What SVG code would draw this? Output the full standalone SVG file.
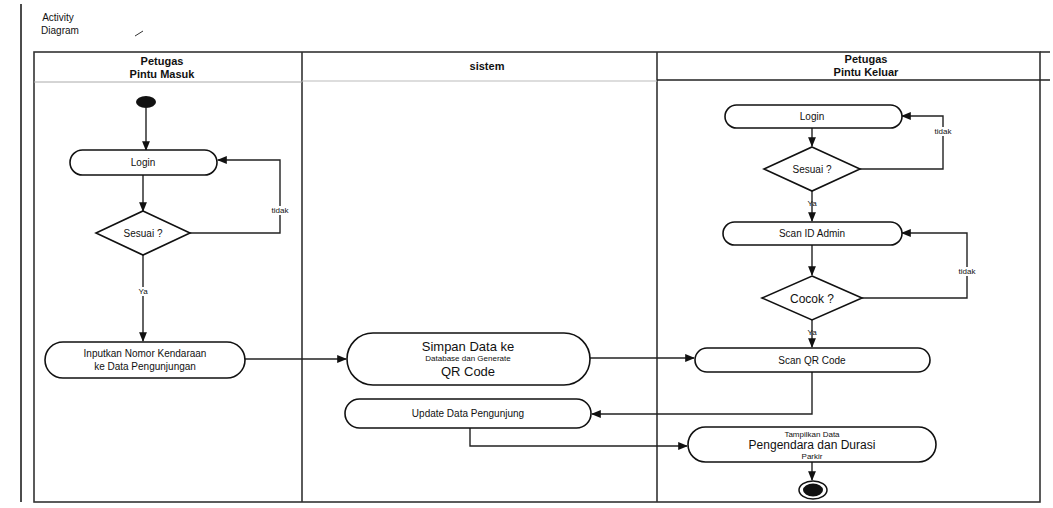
<svg xmlns="http://www.w3.org/2000/svg" width="1053" height="508" viewBox="0 0 1053 508">
<defs>
<style>
.t{font-family:"Liberation Sans",Arial,sans-serif;fill:#111;text-anchor:middle}
.h{font-size:11px;font-weight:bold}
.n{font-size:10px}
.s{font-size:8px}
.b{font-size:13px}
.node{fill:#fff;stroke:#111;stroke-width:1.6}
.lane{fill:none;stroke:#333;stroke-width:1.6}
.c{fill:none;stroke:#222;stroke-width:1.4}
</style>
<marker id="ar" viewBox="0 0 10 10" refX="9" refY="5" markerWidth="7" markerHeight="7" orient="auto-start-reverse">
<path d="M0,1 L10,5 L0,9 z" fill="#111"/>
</marker>
</defs>
<rect width="1053" height="508" fill="#fff"/>
<line x1="21" y1="4" x2="21" y2="502" stroke="#111" stroke-width="1.5"/>
<g id="title">
<text class="t n" x="58" y="21">Activity</text>
<text class="t n" x="60" y="34">Diagram</text>
<path d="M135,36 L143,31" stroke="#333" stroke-width="1" fill="none"/>
</g>
<g id="lanes">
<rect class="lane" x="34" y="52" width="1006" height="450"/>
<line class="lane" x1="1040" y1="52" x2="1050" y2="52"/>
<line class="lane" x1="302" y1="52" x2="302" y2="502"/>
<line class="lane" x1="657" y1="52" x2="657" y2="502" stroke-width="2"/>
<line x1="34" y1="82" x2="302" y2="82" stroke="#aaa" stroke-width="1"/>
<line x1="302" y1="81" x2="657" y2="81" stroke="#bbb" stroke-width="1"/>
<line x1="657" y1="80" x2="1050" y2="80" stroke="#222" stroke-width="1.6"/>
<text class="t h" x="162" y="65">Petugas</text>
<text class="t h" x="162" y="78">Pintu Masuk</text>
<text class="t h" x="487" y="70">sistem</text>
<text class="t h" x="866" y="63">Petugas</text>
<text class="t h" x="866" y="76">Pintu Keluar</text>
</g>
<g id="connectors">
<line class="c" x1="146" y1="108" x2="146" y2="150" marker-end="url(#ar)"/>
<line class="c" x1="143" y1="175" x2="143" y2="211" marker-end="url(#ar)"/>
<polyline class="c" points="190,233 280,233 280,160 218,160" marker-end="url(#ar)"/>
<line class="c" x1="143" y1="255" x2="143" y2="341" marker-end="url(#ar)"/>
<line class="c" x1="245" y1="359" x2="346" y2="359" marker-end="url(#ar)"/>
<line class="c" x1="590" y1="358" x2="694" y2="358" marker-end="url(#ar)"/>
<polyline class="c" points="812,372 812,414 592,414" marker-end="url(#ar)"/>
<polyline class="c" points="470,428 470,446 687,446" marker-end="url(#ar)"/>
<line class="c" x1="812" y1="128" x2="812" y2="146" marker-end="url(#ar)"/>
<polyline class="c" points="860,169 943,169 943,116 902,116" marker-end="url(#ar)"/>
<line class="c" x1="812" y1="191" x2="812" y2="221" marker-end="url(#ar)"/>
<line class="c" x1="812" y1="245" x2="812" y2="275" marker-end="url(#ar)"/>
<polyline class="c" points="862,298 967,298 967,233 902,233" marker-end="url(#ar)"/>
<line class="c" x1="812" y1="320" x2="812" y2="347" marker-end="url(#ar)"/>
<line class="c" x1="812" y1="462" x2="812" y2="480" marker-end="url(#ar)" stroke-width="2"/>
<rect x="270" y="206" width="20" height="9" fill="#fff"/>
<text class="t s" x="280" y="213">tidak</text>
<rect x="136" y="287" width="14" height="9" fill="#fff"/>
<text class="t s" x="143" y="294">Ya</text>
<rect x="933" y="127" width="20" height="9" fill="#fff"/>
<text class="t s" x="943" y="134">tidak</text>
<text class="t s" x="812" y="206">Ya</text>
<rect x="956" y="267" width="22" height="9" fill="#fff"/>
<text class="t s" x="967" y="274">tidak</text>
<text class="t s" x="812" y="335">Ya</text>
</g>
<g id="start"><ellipse cx="146" cy="102" rx="10" ry="6" fill="#111"/></g>
<g id="login1">
<rect class="node" x="70" y="150" width="147" height="25" rx="12.5"/>
<text class="t n" x="143" y="166">Login</text>
</g>
<g id="cek1">
<polygon class="node" points="143,211 190,233 143,255 96,233"/>
<text class="t n" x="143" y="237">Sesuai ?</text>
</g>
<g id="input">
<rect class="node" x="45" y="342" width="200" height="36" rx="18"/>
<text class="t n" x="145" y="357">Inputkan Nomor Kendaraan</text>
<text class="t n" x="145" y="370">ke Data Pengunjungan</text>
</g>
<g id="simpan">
<rect class="node" x="347" y="333" width="243" height="52" rx="26"/>
<text class="t b" x="468" y="351">Simpan Data ke</text>
<text class="t s" x="468" y="361">Database dan Generate</text>
<text class="t b" x="468" y="376">QR Code</text>
</g>
<g id="update">
<rect class="node" x="345" y="399" width="246" height="29" rx="14.5"/>
<text class="t n" x="468" y="417">Update Data Pengunjung</text>
</g>
<g id="login2">
<rect class="node" x="725" y="105" width="177" height="23" rx="11.5"/>
<text class="t n" x="812" y="120">Login</text>
</g>
<g id="cek2">
<polygon class="node" points="812,147 860,169 812,191 764,169"/>
<text class="t n" x="812" y="173">Sesuai ?</text>
</g>
<g id="scanid">
<rect class="node" x="723" y="222" width="179" height="23" rx="11.5"/>
<text class="t n" x="812" y="237">Scan ID Admin</text>
</g>
<g id="cek3">
<polygon class="node" points="812,276 862,298 812,320 762,298"/>
<text class="t" x="812" y="303" style="font-size:12px">Cocok ?</text>
</g>
<g id="scanqr">
<rect class="node" x="695" y="348" width="235" height="24" rx="12"/>
<text class="t n" x="812" y="364">Scan QR Code</text>
</g>
<g id="tampil">
<rect class="node" x="688" y="427" width="248" height="35" rx="17.5"/>
<text class="t s" x="812" y="437">Tampilkan Data</text>
<text class="t" x="812" y="449" style="font-size:12px">Pengendara dan Durasi</text>
<text class="t s" x="812" y="459">Parkir</text>
</g>
<g id="end">
<ellipse cx="813" cy="490" rx="14" ry="9" fill="#fff" stroke="#111" stroke-width="1.5"/>
<ellipse cx="813" cy="490" rx="10" ry="6.5" fill="#111"/>
</g>
</svg>
